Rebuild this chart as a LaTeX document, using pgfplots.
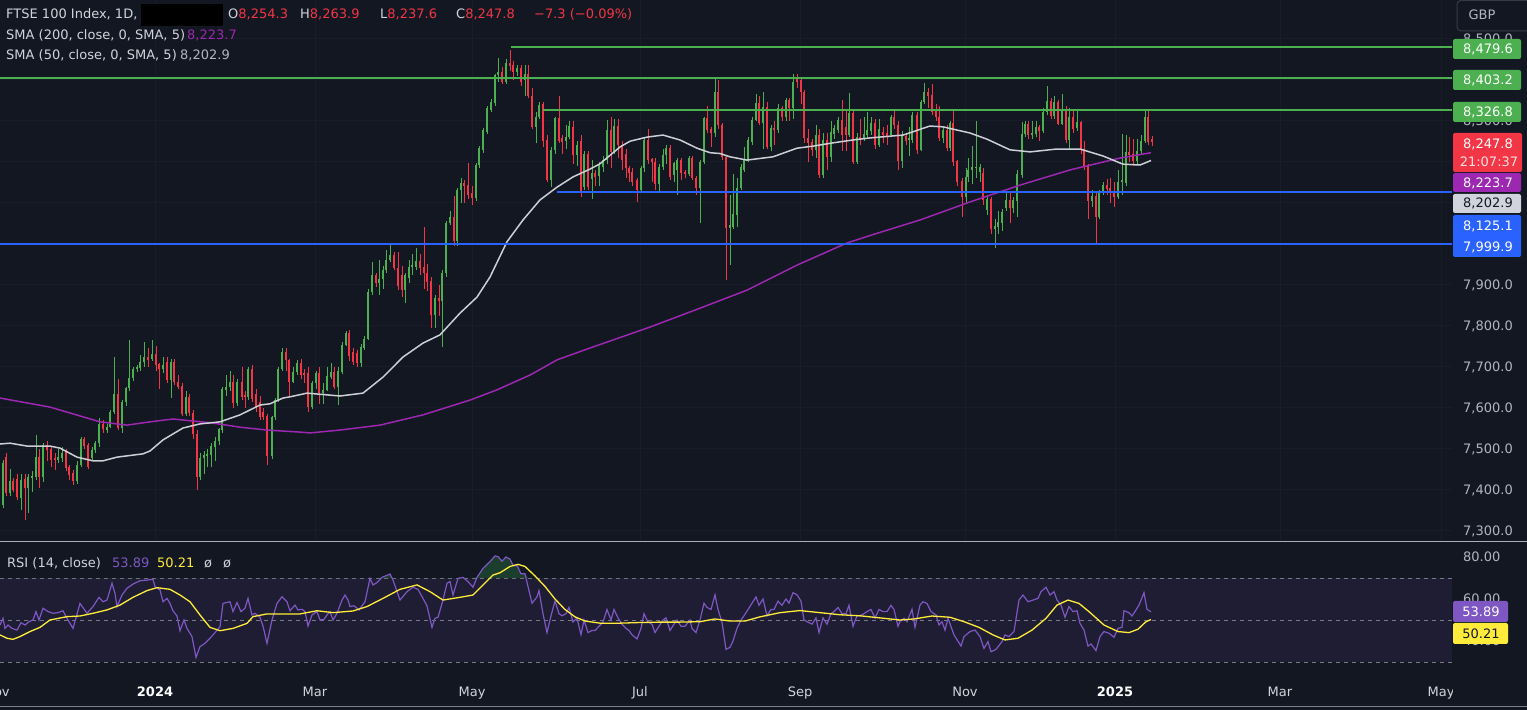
\documentclass[border=0pt]{standalone}
\usepackage{fontspec}
\setmainfont{DejaVu Sans}
\usepackage{pgfplots}
\pgfplotsset{compat=1.18}
\usepackage{pgfplotstable}
\definecolor{bg}{RGB}{19,23,34}
\definecolor{txt}{RGB}{209,212,220}
\definecolor{lbl}{RGB}{178,181,190}
\definecolor{cup}{RGB}{76,175,80}
\definecolor{cdn}{RGB}{242,54,69}
\definecolor{lgreen}{RGB}{76,175,80}
\definecolor{lblue}{RGB}{41,98,255}
\definecolor{smaA}{RGB}{156,39,176}
\definecolor{smaB}{RGB}{205,207,214}
\definecolor{rsic}{RGB}{126,87,194}
\definecolor{rsima}{RGB}{255,235,59}
\definecolor{band}{RGB}{30,29,51}
\definecolor{obg}{RGB}{28,62,46}
\definecolor{gridc}{RGB}{25,29,41}
\definecolor{sep}{RGB}{170,173,182}
\definecolor{dashc}{RGB}{120,123,134}
\definecolor{boxc}{RGB}{54,58,69}
\newcommand\fs{\fontsize{13bp}{15.6bp}\selectfont}

\pgfplotstableread{
x o h l c
3 7363 7473 7355 7465
6 7481 7490 7385 7393
10 7393 7450 7385 7423
13 7423 7430 7395 7400
17 7426 7440 7375 7382
21 7380 7440 7350 7424
25 7426 7440 7327 7404
28 7404 7440 7343 7432
32 7430 7445 7395 7434
36 7432 7534 7425 7481
39 7481 7500 7405 7431
43 7431 7515 7420 7510
47 7510 7520 7470 7497
51 7501 7505 7455 7473
55 7477 7490 7448 7473
58 7473 7500 7465 7481
62 7477 7505 7468 7491
66 7493 7500 7445 7453
69 7455 7462 7425 7437
73 7441 7448 7413 7423
77 7423 7470 7415 7461
81 7461 7530 7455 7523
84 7523 7530 7500 7507
88 7510 7515 7450 7457
92 7477 7505 7470 7497
95 7497 7520 7490 7514
99 7514 7575 7505 7561
103 7561 7570 7540 7548
107 7546 7560 7540 7554
110 7554 7595 7550 7591
114 7591 7725 7585 7634
118 7634 7670 7545 7550
122 7550 7620 7540 7615
126 7615 7650 7605 7648
129 7648 7765 7640 7672
133 7672 7700 7665 7694
137 7694 7705 7688 7699
140 7697 7730 7690 7711
144 7711 7760 7700 7725
148 7725 7745 7700 7717
152 7720 7765 7715 7731
156 7731 7752 7690 7705
159 7706 7710 7647 7694
163 7694 7725 7685 7704
167 7713 7725 7660 7668
171 7668 7720 7625 7713
174 7713 7720 7655 7664
178 7664 7680 7645 7652
182 7653 7660 7580 7585
186 7585 7640 7580 7627
189 7627 7635 7580 7588
193 7588 7595 7525 7536
197 7536 7545 7400 7432
200 7432 7490 7425 7477
204 7477 7495 7440 7485
207 7483 7500 7455 7488
211 7485 7515 7455 7507
215 7505 7530 7470 7519
219 7519 7552 7510 7548
222 7546 7650 7540 7645
226 7643 7680 7630 7652
230 7650 7690 7640 7662
233 7664 7680 7600 7611
237 7611 7670 7605 7664
242 7664 7700 7620 7627
245 7631 7640 7600 7627
248 7627 7700 7620 7694
252 7694 7705 7615 7623
256 7635 7645 7590 7603
260 7615 7630 7570 7579
263 7591 7600 7570 7579
267 7580 7585 7460 7483
272 7483 7580 7475 7577
275 7577 7625 7570 7619
278 7619 7700 7615 7696
282 7696 7745 7690 7737
286 7737 7745 7690 7717
289 7717 7720 7630 7664
293 7664 7700 7660 7688
297 7688 7716 7680 7710
301 7710 7720 7670 7680
304 7686 7695 7660 7680
308 7686 7700 7590 7603
312 7603 7665 7598 7660
316 7660 7690 7645 7684
319 7684 7700 7610 7636
323 7636 7660 7610 7644
327 7644 7700 7640 7678
331 7676 7710 7670 7688
334 7688 7700 7645 7652
338 7652 7700 7608 7690
342 7688 7760 7682 7753
346 7753 7788 7750 7782
349 7782 7790 7715 7727
353 7737 7745 7705 7713
357 7734 7740 7700 7710
361 7710 7755 7700 7749
364 7745 7775 7740 7769
368 7769 7890 7765 7883
372 7883 7955 7875 7924
376 7924 7930 7895 7904
379 7904 7960 7875 7913
383 7913 7945 7890 7936
386 7936 7985 7930 7960
390 7960 8003 7955 7973
394 7973 7980 7935 7940
398 7940 7980 7888 7896
402 7924 7945 7870 7887
405 7887 7930 7855 7924
409 7916 7960 7905 7944
412 7944 7975 7925 7946
416 7944 7990 7935 7959
420 7959 7975 7925 7940
424 7944 8042 7890 7928
427 7928 7950 7885 7908
431 7910 7920 7795 7826
435 7826 7875 7795 7869
439 7869 7900 7825 7861
442 7861 7935 7749 7928
446 7928 8055 7920 8050
450 8050 8080 8045 8066
454 8066 8116 7995 8008
457 8008 8135 7995 8131
461 8131 8160 8100 8147
464 8147 8155 8100 8141
468 8143 8196 8110 8119
472 8123 8140 8095 8111
476 8111 8197 8105 8192
479 8192 8238 8185 8233
483 8229 8282 8222 8277
487 8273 8335 8268 8330
491 8326 8353 8320 8346
495 8342 8415 8335 8411
498 8411 8452 8395 8419
502 8419 8430 8390 8395
506 8395 8450 8390 8441
510 8441 8473 8420 8433
513 8436 8445 8400 8419
517 8419 8435 8410 8428
521 8428 8436 8385 8395
525 8399 8435 8360 8415
528 8415 8435 8355 8359
532 8360 8380 8280 8285
536 8285 8320 8245 8310
539 8310 8345 8305 8338
543 8341 8345 8235 8251
547 8253 8265 8150 8155
551 8155 8235 8138 8229
555 8229 8310 8220 8306
559 8306 8360 8245 8251
562 8259 8265 8220 8249
566 8251 8290 8230 8261
569 8261 8300 8255 8287
573 8284 8300 8195 8216
577 8216 8250 8190 8241
581 8250 8265 8115 8125
584 8139 8225 8130 8220
588 8220 8225 8130 8139
592 8159 8205 8110 8172
595 8172 8180 8140 8164
599 8164 8200 8140 8192
603 8188 8215 8175 8204
607 8204 8302 8195 8277
611 8277 8310 8185 8225
614 8225 8305 8220 8287
618 8287 8305 8210 8241
622 8241 8250 8180 8204
626 8220 8230 8160 8184
629 8184 8190 8150 8172
632 8176 8185 8140 8151
637 8155 8160 8103 8131
641 8131 8190 8125 8184
644 8184 8260 8175 8253
648 8253 8280 8195 8204
652 8206 8210 8150 8200
655 8200 8210 8130 8147
659 8147 8195 8125 8188
663 8188 8230 8180 8216
666 8216 8240 8195 8233
670 8233 8240 8155 8164
674 8168 8200 8150 8196
677 8180 8210 8120 8204
681 8204 8210 8155 8172
685 8173 8180 8160 8171
689 8171 8215 8165 8208
692 8208 8215 8155 8160
696 8160 8165 8120 8135
700 8135 8205 8050 8200
704 8200 8310 8195 8306
707 8306 8335 8270 8277
711 8279 8285 8235 8269
715 8269 8405 8260 8371
718 8371 8400 8280 8290
722 8290 8295 8205 8212
726 8212 8215 7912 8038
730 8038 8120 7948 8046
733 8042 8170 8035 8073
737 8070 8160 8040 8135
741 8135 8195 8130 8188
744 8180 8235 8175 8204
748 8204 8260 8200 8253
752 8249 8310 8240 8302
756 8302 8365 8300 8342
759 8342 8360 8290 8294
763 8294 8370 8230 8334
767 8334 8345 8230 8237
771 8237 8290 8225 8281
774 8281 8300 8240 8277
778 8277 8340 8270 8330
782 8330 8335 8300 8310
786 8310 8355 8300 8350
789 8350 8355 8300 8330
793 8330 8414 8305 8395
797 8402 8413 8380 8395
801 8399 8405 8340 8371
804 8371 8375 8245 8257
808 8257 8280 8200 8246
812 8249 8255 8215 8229
816 8229 8290 8210 8265
819 8265 8280 8160 8168
823 8168 8270 8160 8253
827 8253 8270 8180 8212
831 8212 8300 8200 8273
834 8268 8290 8255 8281
838 8277 8310 8270 8302
842 8302 8350 8225 8265
846 8285 8325 8225 8265
849 8265 8368 8260 8318
853 8318 8325 8195 8200
857 8200 8270 8195 8261
860 8259 8305 8240 8257
864 8257 8310 8250 8268
867 8265 8320 8255 8277
871 8275 8310 8265 8295
875 8295 8305 8230 8241
879 8241 8305 8235 8280
883 8273 8285 8245 8265
887 8270 8290 8240 8262
891 8265 8315 8260 8310
894 8310 8325 8280 8289
898 8289 8300 8180 8202
902 8202 8275 8185 8263
906 8263 8270 8240 8251
909 8253 8285 8215 8257
912 8253 8320 8245 8314
917 8314 8320 8220 8229
921 8229 8350 8225 8346
924 8346 8391 8340 8371
928 8371 8380 8330 8360
932 8363 8390 8315 8322
936 8326 8340 8300 8310
939 8310 8335 8250 8257
943 8257 8285 8245 8277
947 8277 8290 8225 8233
950 8233 8300 8225 8294
953 8294 8325 8190 8200
957 8202 8205 8140 8151
962 8153 8160 8066 8115
966 8115 8185 8100 8163
968 8163 8210 8150 8180
972 8180 8238 8145 8188
976 8185 8299 8160 8188
980 8175 8195 8150 8188
983 8172 8185 8095 8107
987 8082 8120 8070 8108
991 8108 8115 8025 8035
995 8035 8060 7990 8043
998 8041 8080 8025 8054
1002 8050 8085 8030 8078
1006 8086 8125 8080 8107
1010 8107 8125 8050 8086
1013 8086 8115 8075 8107
1017 8105 8180 8065 8170
1022 8168 8297 8160 8268
1025 8268 8300 8260 8292
1028 8292 8300 8255 8265
1032 8265 8300 8255 8269
1036 8267 8300 8260 8285
1039 8285 8290 8250 8275
1043 8275 8330 8270 8322
1047 8322 8385 8315 8348
1051 8348 8355 8305 8312
1054 8312 8360 8305 8345
1058 8345 8350 8290 8293
1062 8293 8365 8290 8328
1066 8328 8335 8245 8253
1069 8253 8330 8230 8310
1073 8310 8325 8270 8281
1077 8281 8325 8275 8298
1081 8298 8300 8220 8229
1084 8230 8250 8180 8188
1088 8190 8195 8060 8104
1092 8104 8130 8090 8116
1096 8116 8125 7997 8066
1099 8066 8130 8060 8127
1103 8127 8150 8120 8143
1107 8143 8158 8120 8133
1110 8137 8160 8100 8127
1114 8127 8150 8090 8115
1118 8115 8180 8110 8151
1122 8151 8268 8118 8155
1126 8149 8265 8140 8224
1129 8224 8260 8200 8216
1133 8218 8255 8190 8202
1137 8202 8255 8195 8227
1141 8227 8265 8220 8251
1145 8251 8324 8245 8310
1148 8310 8325 8240 8249
1152 8254.3 8263.9 8237.6 8247.8
}\candles

\pgfplotstableread{
x p
0 7512
10 7514
27 7507
50 7507
60 7502
77 7480
93 7471
103 7471
117 7480
143 7488
150 7495
163 7522
183 7551
200 7561
220 7566
240 7583
260 7607
270 7610
283 7624
290 7627
307 7636
340 7629
363 7636
383 7675
403 7724
423 7758
440 7778
460 7831
477 7870
490 7919
507 8005
523 8058
540 8107
557 8138
573 8163
590 8182
600 8195
620 8236
630 8250
647 8260
663 8265
680 8253
697 8233
710 8222
720 8220
730 8212
747 8204
773 8212
797 8233
813 8238
833 8246
853 8253
870 8258
903 8265
930 8287
943 8285
970 8270
987 8255
1010 8229
1030 8224
1057 8231
1080 8231
1103 8214
1123 8194
1140 8192
1151 8203
}\smafifty

\pgfplotstableread{
x p
0 7624
50 7602
100 7566
127 7558
150 7566
173 7573
213 7563
240 7553
267 7546
300 7541
310 7539
340 7546
380 7558
423 7583
470 7619
497 7644
530 7680
557 7717
590 7746
650 7797
700 7843
747 7887
797 7948
847 8002
875 8024
920 8058
970 8102
1020 8143
1070 8180
1120 8209
1151 8222
}\smatwohundred

\pgfplotstableread{
x r
0 47.6
3 50.8
5 46.0
8 47.6
12 46.0
17 45.2
21 48.7
25 47.6
29 49.2
33 50.0
36 54.0
39 50.0
43 55.6
48 54.0
53 53.2
58 53.5
63 54.4
67 50.8
73 46.0
80 57.9
87 53.2
93 56.4
99 60.8
103 58.7
107 59.5
112 67.5
115 62.7
117 56.4
122 61.9
127 65.1
133 67.1
140 68.7
147 69.0
153 69.4
155 65.9
160 64.3
163 58.7
167 60.3
170 57.9
173 54.4
177 51.9
180 44.9
184 50.0
187 46.0
192 42.1
196 32.2
200 37.3
205 38.9
210 41.3
215 44.0
220 46.8
223 57.9
230 58.7
233 54.0
237 58.3
241 54.0
245 55.6
248 60.3
252 52.4
255 53.2
260 51.3
263 47.1
267 38.9
272 50.0
277 57.9
282 61.1
287 58.7
290 54.4
295 57.1
298 54.8
302 55.1
305 54.0
308 47.1
312 52.4
317 54.0
320 50.0
324 50.3
327 52.4
330 54.0
333 50.0
337 53.2
342 59.5
345 61.9
348 59.5
350 56.4
354 56.8
359 54.8
365 58.7
370 69.8
373 66.7
377 67.8
382 70.3
390 71.9
393 69.0
400 59.5
407 63.5
413 65.6
418 64.6
423 60.3
427 56.7
432 46.5
435 50.8
438 51.3
443 59.5
447 67.5
450 68.3
453 61.9
458 69.8
463 70.3
468 68.3
473 65.6
477 70.3
483 74.6
490 77.8
495 80.5
498 80.2
502 78
506 80
510 79
513 76
517 76
521 72
525 72
528 66
532 58
537 61
539 64
543 53
547 44
551 52
555 59
559 53
562 52
566 53
569 56
573 49
577 51
581 43
584 50
588 44
592 45
595 45
599 47
603 49
607 55
611 50
614 55
618 51
622 48
626 46
629 45
632 43
637 41
641 46
644 53
648 49
652 48
655 44
659 47
663 50
666 51
670 45
674 48
677 50
681 47
685 47
690 50
692 46
696 44
700 50
704 58
707 56
711 55
715 62
718 55
722 49
726 36
730 37
733 40
737 46
741 50
744 52
748 55
752 58
756 61
759 57
763 60
767 52
771 55
774 55
778 59
782 57
786 60
789 58
793 63
797 62
801 59
804 50
808 49
812 48
816 51
819 44
823 51
827 48
831 53
834 54
838 56
842 53
846 53
849 57
853 47
857 52
860 52
864 53
867 54
871 55
875 51
879 55
883 54
887 54
891 57
894 55
898 47
900 49.2
904 50.8
907 49.2
912 55.1
915 46.5
920 57.1
923 58.7
927 57.9
931 54.0
936 52.4
939 47.6
942 49.2
945 45.2
948 50.8
954 42.9
961 37.6
964 42.1
970 44.5
975 45.2
980 42.1
984 36.5
988 39.7
991 34.9
996 36.0
1002 39.7
1005 42.9
1009 42.1
1014 44.5
1019 59.5
1023 61.9
1028 58.7
1033 59.5
1038 60.3
1041 63.5
1046 65.6
1050 61.9
1054 63.5
1057 59.5
1061 57.1
1065 51.3
1069 56.4
1073 54.0
1077 54.4
1080 48.4
1084 45.2
1088 37.6
1091 38.6
1096 35.4
1100 42.1
1104 44.5
1109 43.7
1114 41.8
1118 46.0
1122 46.5
1124 54.4
1129 53.5
1132 51.9
1136 54.8
1139 57.1
1144 63.0
1147 55.1
1151 53.89
}\rsi

\pgfplotstableread{
x m
0 42.9
7 41.3
13 40.8
20 42.1
30 44.5
40 46.5
50 50.0
67 51.6
80 51.9
93 53.2
107 54.8
120 57.1
133 60.8
147 64.0
157 65.4
170 64.6
180 61.9
190 58.7
200 52.4
210 46.5
220 44.9
233 46.0
247 48.4
253 51.6
267 52.9
283 52.9
300 52.9
317 54.4
333 53.5
353 54.3
367 56.4
383 60.3
400 64.6
417 66.7
430 63.5
443 59.5
460 60.8
473 61.9
483 66.7
493 71.4
500 72.5
510 75.5
518 76.5
525 75.5
535 71
545 66
555 60
565 55
575 51.5
585 49.5
600 48.5
620 48.5
640 48.8
660 49
680 49
700 49.2
715 50.5
730 49.5
745 49.5
760 51.5
780 53.5
800 54.5
820 53.5
840 52.5
860 52
880 51
900 50.0
914 50.5
932 51.9
950 51.3
964 49.2
979 46.5
993 42.9
1005 40.5
1018 41.3
1032 45.2
1046 50.8
1057 57.1
1068 59.5
1079 57.9
1089 54.0
1104 47.6
1118 44.5
1129 44.0
1138 45.6
1146 49.2
1151 50.21
}\rsima

\begin{document}
\begin{tikzpicture}
\fill[bg] (0bp,0bp) rectangle (1527bp,710bp);

% ---------------- main price panel ----------------
\begin{axis}[
  at={(0bp,169bp)}, anchor=south west, scale only axis,
  width=1452bp, height=541bp,
  xmin=0, xmax=1452, ymin=7275.6, ymax=8594.2,
  axis line style={draw=none}, major tick length=0pt,
  xtick={155,315,472,640,800,965,1115,1280,1441}, xticklabels={},
  ytick={7300,7400,7500,7600,7700,7800,7900,8000,8100,8200,8300,8400,8500},
  xmajorgrids=true, ymajorgrids=true,
  major grid style={draw=gridc, line width=1bp},
  scaled y ticks=false,
  yticklabel pos=right,
  yticklabel style={anchor=west, inner sep=0pt, xshift=11bp, font=\fs, text=lbl, text depth=0pt,
    /pgf/number format/fixed, /pgf/number format/fixed zerofill,
    /pgf/number format/precision=1, /pgf/number format/1000 sep={,}},
  /pgf/number format/assume math mode=true,
]
% wicks (zero-length segments for the other colour draw nothing)
\addplot[cup, line width=1bp, mark=none, forget plot,
  quiver={u=0, v={(\thisrow{h}-\thisrow{l})*(1-(\thisrow{c}<\thisrow{o}))},
    every arrow/.append style={line width=1bp, line cap=butt}}]
  table[x=x, y=l] {\candles};
\addplot[cdn, line width=1bp, mark=none, forget plot,
  quiver={u=0, v={(\thisrow{h}-\thisrow{l})*(\thisrow{c}<\thisrow{o})},
    every arrow/.append style={line width=1bp, line cap=butt}}]
  table[x=x, y=l] {\candles};
% bodies, thin fallback
\addplot[cup, line width=2.9bp, mark=none, forget plot,
  quiver={u=0, v={((\thisrow{c}-\thisrow{o})+((\thisrow{c}-\thisrow{o})<2.4)*(2.4-(\thisrow{c}-\thisrow{o})))*(1-(\thisrow{c}<\thisrow{o}))},
    every arrow/.append style={line width=2.9bp, line cap=butt}}]
  table[x=x, y=o] {\candles};
\addplot[cdn, line width=2.9bp, mark=none, forget plot,
  quiver={u=0, v={((\thisrow{o}-\thisrow{c})+((\thisrow{o}-\thisrow{c})<2.4)*(2.4-(\thisrow{o}-\thisrow{c})))*(\thisrow{c}<\thisrow{o})},
    every arrow/.append style={line width=2.9bp, line cap=butt}}]
  table[x=x, y=c] {\candles};
% bodies as wide error bars (zero length for the other colour)
\addplot[draw=none, mark=none, forget plot,
  error bars/.cd, y dir=both, y explicit, error mark=none,
  error bar style={draw=cup, line width=2.9bp, line cap=butt}]
  table[x=x, y expr={(\thisrow{o}+\thisrow{c})/2},
    y error expr={(0.5*abs(\thisrow{c}-\thisrow{o})+1.2*(abs(\thisrow{c}-\thisrow{o})<2.4))*(1-(\thisrow{c}<\thisrow{o}))}] {\candles};
\addplot[draw=none, mark=none, forget plot,
  error bars/.cd, y dir=both, y explicit, error mark=none,
  error bar style={draw=cdn, line width=2.9bp, line cap=butt}]
  table[x=x, y expr={(\thisrow{o}+\thisrow{c})/2},
    y error expr={(0.5*abs(\thisrow{c}-\thisrow{o})+1.2*(abs(\thisrow{c}-\thisrow{o})<2.4))*(\thisrow{c}<\thisrow{o})}] {\candles};
% moving averages
\addplot[smaA, line width=1.5bp, mark=none] table[x=x,y=p] {\smatwohundred};
\addplot[smaB, line width=1.5bp, mark=none] table[x=x,y=p] {\smafifty};
% horizontal levels
\addplot[lgreen, line width=2bp, mark=none] coordinates {(511,8479.6) (1452,8479.6)};
\addplot[lgreen, line width=2bp, mark=none] coordinates {(0,8403.2) (1452,8403.2)};
\addplot[lgreen, line width=2bp, mark=none] coordinates {(543,8326.8) (1452,8326.8)};
\addplot[lblue, line width=2bp, mark=none] coordinates {(557,8125.1) (1452,8125.1)};
\addplot[lblue, line width=2bp, mark=none] coordinates {(0,7999.9) (1452,7999.9)};
\end{axis}

% ---------------- RSI panel ----------------
\begin{axis}[
  at={(0bp,30bp)}, anchor=south west, scale only axis,
  width=1452bp, height=137bp,
  xmin=0, xmax=1452, ymin=21.43, ymax=86.67,
  axis line style={draw=none}, major tick length=0pt,
  xtick=\empty, ytick={40,60,80},
  yticklabel pos=right,
  yticklabel style={anchor=west, inner sep=0pt, xshift=11bp, font=\fs, text=lbl, text depth=0pt},
  /pgf/number format/fixed, /pgf/number format/fixed zerofill,
  /pgf/number format/precision=2,
  /pgf/number format/assume math mode=true,
]
\addplot[draw=none, fill=band, mark=none] coordinates {(0,30) (1452,30) (1452,70) (0,70)} -- cycle;
\addplot[dashc, line width=1bp, dash pattern=on 4bp off 4bp, mark=none] coordinates {(0,70) (1452,70)};
\addplot[dashc, line width=1bp, dash pattern=on 4bp off 4bp, mark=none] coordinates {(0,50) (1452,50)};
\addplot[dashc, line width=1bp, dash pattern=on 4bp off 4bp, mark=none] coordinates {(0,30) (1452,30)};
\addplot[draw=none, fill=obg, mark=none] table[x=x, y expr={max(\thisrow{r},70)}] {\rsi} -- cycle;
\addplot[rsic, line width=1.2bp, mark=none] table[x=x,y=r] {\rsi};
\addplot[rsima, line width=1.3bp, mark=none] table[x=x,y=m] {\rsima};
\end{axis}

\begin{scope}[x=1bp,y=1bp]
% separators
\draw[sep, line width=1bp] (0,168.5) -- (1527,168.5);
\draw[sep!70!bg, line width=1bp] (0,3.5) -- (1527,3.5);

% date labels
\begin{scope}
\clip (0,5) rectangle (1452,30);
\node[anchor=base, font=\fs, text=txt] at (-3,13.3) {Nov};
\node[anchor=base, font=\fs\bfseries, text=white] at (155,13.3) {2024};
\node[anchor=base, font=\fs, text=txt] at (315,13.3) {Mar};
\node[anchor=base, font=\fs, text=txt] at (472,13.3) {May};
\node[anchor=base, font=\fs, text=txt] at (640,13.3) {Jul};
\node[anchor=base, font=\fs, text=txt] at (800,13.3) {Sep};
\node[anchor=base, font=\fs, text=txt] at (965,13.3) {Nov};
\node[anchor=base, font=\fs\bfseries, text=white] at (1115,13.3) {2025};
\node[anchor=base, font=\fs, text=txt] at (1280,13.3) {Mar};
\node[anchor=base, font=\fs, text=txt] at (1441,13.3) {May};
\end{scope}

% legend texts
\fill[black] (141,706) rectangle (223,684);
\node[anchor=base west, inner sep=0pt, font=\fs, text=txt] at (6,691.3) {FTSE 100 Index, 1D,};
\node[anchor=base west, inner sep=0pt, font=\fs, text=txt] at (228,691.3) {O\textcolor{cdn}{8,254.3}};
\node[anchor=base west, inner sep=0pt, font=\fs, text=txt] at (300,691.3) {H\textcolor{cdn}{8,263.9}};
\node[anchor=base west, inner sep=0pt, font=\fs, text=txt] at (380,691.3) {L\textcolor{cdn}{8,237.6}};
\node[anchor=base west, inner sep=0pt, font=\fs, text=txt] at (456,691.3) {C\textcolor{cdn}{8,247.8}};
\node[anchor=base west, inner sep=0pt, font=\fs, text=cdn] at (534,691.3) {−7.3 (−0.09\%)};
\node[anchor=base west, inner sep=0pt, font=\fs, text=txt] at (6,670.3) {SMA (200, close, 0, SMA, 5)};
\node[anchor=base west, inner sep=0pt, font=\fs, text=smaA] at (187,670.3) {8,223.7};
\node[anchor=base west, inner sep=0pt, font=\fs, text=txt] at (6,650.3) {SMA (50, close, 0, SMA, 5)};
\node[anchor=base west, inner sep=0pt, font=\fs, text=lbl] at (180,650.3) {8,202.9};
\node[anchor=base west, inner sep=0pt, font=\fs, text=txt] at (7,142.3) {RSI (14, close)};
\node[anchor=base west, inner sep=0pt, font=\fs, text=rsic] at (112,142.3) {53.89};
\node[anchor=base west, inner sep=0pt, font=\fs, text=rsima] at (157,142.3) {50.21};
\node[anchor=base west, inner sep=0pt, font=\fs, text=txt] at (204,142.3) {ø};
\node[anchor=base west, inner sep=0pt, font=\fs, text=txt] at (223,142.3) {ø};

% GBP box
\begin{scope}
\clip (1440,670) rectangle (1527,710);
\draw[boxc, line width=1bp, rounded corners=4bp] (1457,679) rectangle (1545,709.5);
\end{scope}
\node[font=\fs, text=lbl] at (1482,695) {GBP};

% price badges
\fill[lgreen, rounded corners=2bp] (1453,671) rectangle (1521,651);
\node[font=\fs, text=white] at (1488,661) {8,479.6};
\fill[lgreen, rounded corners=2bp] (1453,640) rectangle (1521,620);
\node[font=\fs, text=white] at (1488,630) {8,403.2};
\fill[lgreen, rounded corners=2bp] (1453,608) rectangle (1521,588);
\node[font=\fs, text=white] at (1488,598) {8,326.8};
\fill[cdn, rounded corners=2bp] (1453,577) rectangle (1522,538);
\node[font=\fs, text=white] at (1488,566) {8,247.8};
\node[font=\fs, text=white!85!cdn] at (1489,548) {21:07:37};
\fill[smaA, rounded corners=2bp] (1453,537) rectangle (1521,518);
\node[font=\fs, text=white] at (1488,527) {8,223.7};
\fill[txt, rounded corners=2bp] (1453,516) rectangle (1521,497);
\node[font=\fs, text=bg] at (1488,506.5) {8,202.9};
\fill[lblue, rounded corners=2bp] (1453,495) rectangle (1521,453);
\node[font=\fs, text=white] at (1488,484) {8,125.1};
\node[font=\fs, text=white] at (1488,463) {7,999.9};

% RSI badges
\fill[rsic, rounded corners=2bp] (1453,109) rectangle (1508,88);
\node[font=\fs, text=white] at (1481,98.5) {53.89};
\fill[rsima, rounded corners=2bp] (1453,87) rectangle (1508,66);
\node[font=\fs, text=bg] at (1481,76.5) {50.21};
\end{scope}

\pgfresetboundingbox
\useasboundingbox (0bp,0bp) rectangle (1527bp,710bp);
\end{tikzpicture}
\end{document}
